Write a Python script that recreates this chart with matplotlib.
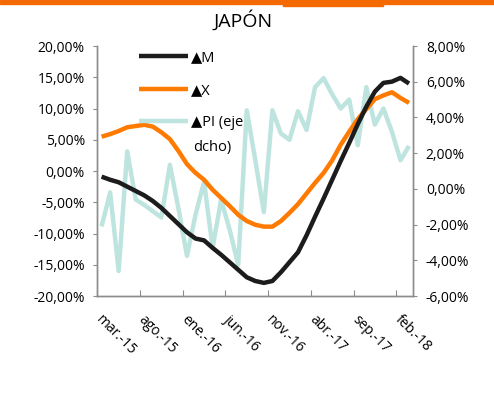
import matplotlib.pyplot as plt
from matplotlib.patches import Rectangle
from matplotlib.transforms import ScaledTranslation

plt.rcParams['font.family'] = ['Open Sans', 'DejaVu Sans']

# Monthly data mar-15 ... mar-18 (37 months)
months = ['mar.-15', 'abr.-15', 'may.-15', 'jun.-15', 'jul.-15', 'ago.-15',
          'sep.-15', 'oct.-15', 'nov.-15', 'dic.-15', 'ene.-16', 'feb.-16',
          'mar.-16', 'abr.-16', 'may.-16', 'jun.-16', 'jul.-16', 'ago.-16',
          'sep.-16', 'oct.-16', 'nov.-16', 'dic.-16', 'ene.-17', 'feb.-17',
          'mar.-17', 'abr.-17', 'may.-17', 'jun.-17', 'jul.-17', 'ago.-17',
          'sep.-17', 'oct.-17', 'nov.-17', 'dic.-17', 'ene.-18', 'feb.-18',
          'mar.-18']

# Imports growth (left axis, %)
m_vals = [-0.9, -1.4, -1.8, -2.5, -3.2, -3.9, -4.8, -5.9, -7.2, -8.5,
          -9.8, -10.8, -11.1, -12.3, -13.4, -14.6, -15.8, -17.0, -17.6, -17.9,
          -17.6, -16.2, -14.6, -13.0, -10.3, -7.3, -4.4, -1.4, 1.6, 4.5,
          7.5, 10.3, 12.7, 14.1, 14.3, 14.9, 14.0]

# Exports growth (left axis, %)
x_vals = [5.5, 5.9, 6.4, 7.0, 7.2, 7.4, 7.1, 6.2, 5.1, 3.2,
          1.1, -0.3, -1.4, -3.0, -4.3, -5.6, -7.0, -8.0, -8.6, -8.9,
          -8.9, -8.0, -6.7, -5.3, -3.6, -1.9, -0.3, 1.7, 4.2, 6.3,
          8.3, 9.9, 11.5, 12.1, 12.6, 11.7, 10.9]

# Industrial production growth (right axis, %)
pi_vals = [-2.1, -0.2, -4.6, 2.1, -0.6, -0.9, -1.25, -1.6, 1.35, -1.1,
           -3.75, -1.45, 0.4, -3.3, -0.6, -2.3, -4.25, 4.4, 1.6, -1.3,
           4.4, 3.1, 2.75, 4.35, 3.3, 5.7, 6.2, 5.3, 4.5, 5.0,
           2.45, 5.7, 3.6, 4.5, 3.2, 1.6, 2.4]

left_ticks = [20, 15, 10, 5, 0, -5, -10, -15, -20]
right_ticks = [8, 6, 4, 2, 0, -2, -4, -6]

c_black = '#1c1c1c'
c_orange = '#FF7A00'
c_teal = '#BEE4DF'
c_axis = '#8c8c8c'

fig = plt.figure(figsize=(4.94, 3.95), dpi=100)
ax = fig.add_axes([0.197, 0.2506, 0.6396, 0.6329])
ax2 = ax.twinx()

idx = list(range(len(months)))
l1, = ax.plot(idx, m_vals, color=c_black, lw=3.2, solid_capstyle='butt', zorder=3)
l2, = ax.plot(idx, x_vals, color=c_orange, lw=3.2, solid_capstyle='butt', zorder=2)
l3, = ax2.plot(idx, pi_vals, color=c_teal, lw=3.2, solid_capstyle='butt')

# left axis drawn on top of the secondary one
ax.set_zorder(ax2.get_zorder() + 1)
ax.patch.set_visible(False)

ax.set_xlim(-0.5, len(months) - 0.5)
ax.set_ylim(-20, 20)
ax2.set_ylim(-6, 8)

ax.set_yticks(left_ticks)
ax.set_yticklabels([f"{v:.2f}%".replace('.', ',') for v in left_ticks], fontsize=10)
ax2.set_yticks(right_ticks)
ax2.set_yticklabels([f"{v:.2f}%".replace('.', ',') for v in right_ticks], fontsize=10)

tick_pos = [i - 0.5 for i in range(0, len(months), 5)]
ax.set_xticks(tick_pos)
ax.set_xticklabels(months[::5], rotation=-45, ha='left', va='top',
                   rotation_mode='anchor', fontsize=10)
ax.tick_params(axis='x', direction='in', length=4, color=c_axis, pad=12)
ax.tick_params(axis='y', direction='out', length=3, color=c_axis, pad=6)
ax2.tick_params(axis='y', direction='out', length=3, color=c_axis, pad=6)
shift = ScaledTranslation(6 / 100, 0, fig.dpi_scale_trans)
for lab in ax.get_xticklabels():
    lab.set_transform(lab.get_transform() + shift)

for a in (ax, ax2):
    a.spines['top'].set_visible(False)
    for s in ('left', 'right', 'bottom'):
        a.spines[s].set_color(c_axis)
        a.spines[s].set_linewidth(1.0)

ax.legend([l1, l2, l3], ['▲M', '▲X', '▲PI (eje'], loc='upper left',
          bbox_to_anchor=(0.09, 1.035), frameon=False, fontsize=10.5,
          handlelength=3.4, handletextpad=0.2, labelspacing=1.2)
# second line of the last legend entry
fig.text(193 / 494, 1 - 147 / 395, 'dcho)', ha='left', va='center', fontsize=10.5)

fig.text(0.492, 0.948, 'JAPÓN', ha='center', va='center', fontsize=14)

# orange banner strip at the very top
fig.patches.append(Rectangle((0, 1 - 4 / 395), 1, 4 / 395, transform=fig.transFigure,
                             color='#F46A00', zorder=0))
fig.patches.append(Rectangle((283 / 494, 1 - 5.7 / 395), 100 / 494, 5.7 / 395,
                             transform=fig.transFigure, color='#F46A00', zorder=0))

fig.savefig('out.png', dpi=100)
